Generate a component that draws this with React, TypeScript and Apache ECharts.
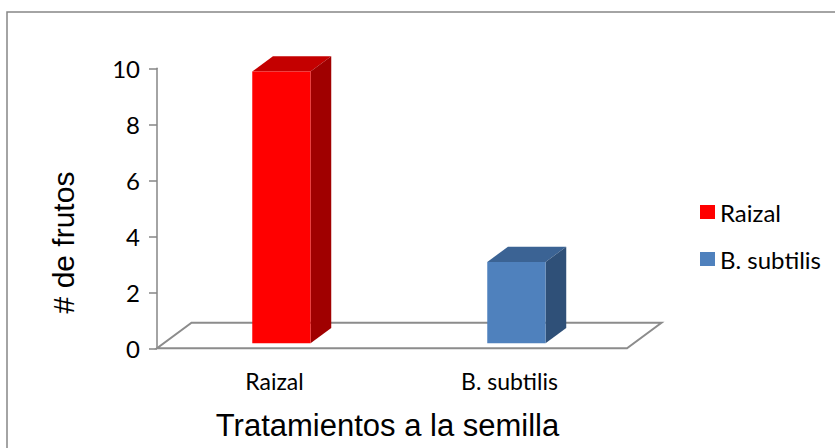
import React, { useEffect, useRef } from "react";
import * as echarts from "echarts";

// Chart data
const categories = ["Raizal", "B. subtilis"];
const seriesNames = ["Raizal", "B. subtilis"];
const raizalValues = [9.7];
const subtilisValues = [2.9];
const yMin = 0;
const yMax = 10;
const yInterval = 2;

// 3D look: depth vector of the floor and the bars' depth span inside it
const DEPTH_DX = 34.5;
const DEPTH_DY = -25.5;
const BAR_FRONT = 0.2;
const BAR_BACK = 0.8;
const BAR_RATIO = 0.248;

const LABEL_FONT = "Lato";
const TITLE_FONT = "Liberation Sans";

type Shade = { front: string; top: string; side: string };
const shades: Shade[] = [
  { front: "#FF0000", top: "#C40000", side: "#A00000" },
  { front: "#4F81BD", top: "#3B6394", side: "#2F5078" },
];

function barRenderer(shade: Shade) {
  return (params: any, api: any) => {
    const cat = api.value(0);
    const val = api.value(1);
    const base = api.coord([cat, 0]);
    const top = api.coord([cat, val]);
    const band = api.size([1, 0])[0];
    const w = band * BAR_RATIO;
    const ox = DEPTH_DX * BAR_FRONT;
    const oy = DEPTH_DY * BAR_FRONT;
    const bx = DEPTH_DX * (BAR_BACK - BAR_FRONT);
    const by = DEPTH_DY * (BAR_BACK - BAR_FRONT);
    const x0 = base[0] - w / 2 + ox;
    const x1 = x0 + w;
    const yb = base[1] + oy;
    const yt = top[1] + oy;
    return {
      type: "group",
      children: [
        {
          type: "polygon",
          shape: { points: [[x0, yt], [x1, yt], [x1 + bx, yt + by], [x0 + bx, yt + by]] },
          style: { fill: shade.top },
        },
        {
          type: "polygon",
          shape: { points: [[x1, yt], [x1 + bx, yt + by], [x1 + bx, yb + by], [x1, yb]] },
          style: { fill: shade.side },
        },
        {
          type: "rect",
          shape: { x: x0, y: yt, width: w, height: yb - yt },
          style: { fill: shade.front },
        },
      ],
    };
  };
}

function floorRenderer(params: any) {
  const cs = params.coordSys;
  const xl = cs.x;
  const xr = cs.x + cs.width;
  const yf = cs.y + cs.height;
  return {
    type: "polygon",
    shape: {
      points: [
        [xl, yf],
        [xr, yf],
        [xr + DEPTH_DX, yf + DEPTH_DY],
        [xl + DEPTH_DX, yf + DEPTH_DY],
      ],
    },
    style: { fill: "#FFFFFF", stroke: "#8C8C8C", lineWidth: 2 },
  };
}

export default function App() {
  const ref = useRef<HTMLDivElement>(null);

  useEffect(() => {
    if (!ref.current) return;
    const chart = echarts.init(ref.current, undefined, { renderer: "svg" });
    chart.setOption({
      animation: false,
      backgroundColor: "#FFFFFF",
      grid: { left: 157, right: 208, top: 68.3, bottom: 99.7 },
      xAxis: {
        type: "category",
        data: categories,
        axisLine: { show: false },
        axisTick: { show: false },
        axisLabel: {
          margin: 21,
          color: "#000000",
          fontFamily: LABEL_FONT,
          fontSize: 23,
        },
        splitLine: { show: false },
      },
      yAxis: {
        type: "value",
        min: yMin,
        max: yMax,
        interval: yInterval,
        axisLine: { show: true, lineStyle: { color: "#868686", width: 1.5 } },
        axisTick: { show: true, length: 8, lineStyle: { color: "#868686", width: 1.5 } },
        axisLabel: {
          margin: 17,
          color: "#000000",
          fontFamily: LABEL_FONT,
          fontSize: 24,
        },
        splitLine: { show: false },
      },
      legend: {
        data: seriesNames,
        orient: "vertical",
        left: 695,
        top: 195,
        itemWidth: 15,
        itemHeight: 14,
        itemGap: 23,
        icon: "rect",
        textStyle: {
          color: "#000000",
          fontFamily: LABEL_FONT,
          fontSize: 24,
          lineHeight: 24,
        },
      },
      graphic: [
        {
          type: "rect",
          shape: { x: 7, y: 12, width: 900, height: 500 },
          style: { fill: "none", stroke: "#868686", lineWidth: 1.5 },
          silent: true,
        },
        {
          type: "text",
          x: 63,
          y: 242.5,
          rotation: Math.PI / 2,
          style: {
            text: "# de frutos",
            fontFamily: TITLE_FONT,
            fontSize: 30,
            fill: "#000000",
            align: "center",
            verticalAlign: "middle",
          },
        },
        {
          type: "text",
          x: 387.5,
          y: 425,
          style: {
            text: "Tratamientos a la semilla",
            fontFamily: TITLE_FONT,
            fontSize: 31,
            fill: "#000000",
            align: "center",
            verticalAlign: "middle",
          },
        },
      ],
      series: [
        {
          name: "floor",
          type: "custom",
          clip: false,
          z: 1,
          silent: true,
          data: [[0, 0]],
          renderItem: floorRenderer,
        },
        {
          name: seriesNames[0],
          type: "custom",
          clip: false,
          z: 2,
          itemStyle: { color: shades[0].front },
          encode: { x: 0, y: 1 },
          data: raizalValues.map((v) => [0, v]),
          renderItem: barRenderer(shades[0]),
        },
        {
          name: seriesNames[1],
          type: "custom",
          clip: false,
          z: 2,
          itemStyle: { color: shades[1].front },
          encode: { x: 0, y: 1 },
          data: subtilisValues.map((v) => [1, v]),
          renderItem: barRenderer(shades[1]),
        },
      ],
    });
    return () => chart.dispose();
  }, []);

  return (
    <div
      ref={ref}
      style={{ position: "absolute", left: 0, top: 0, width: 835, height: 448 }}
    />
  );
}
